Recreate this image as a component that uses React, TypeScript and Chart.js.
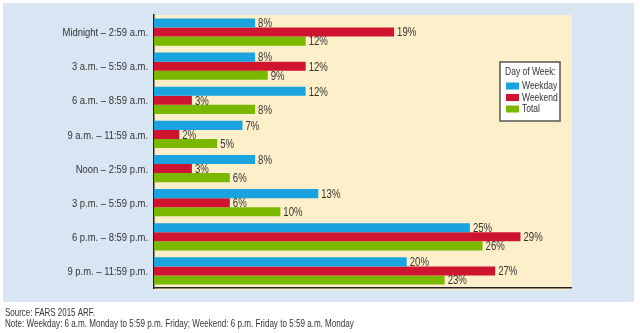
import React, { useEffect, useRef } from "react";
import { Chart, registerables } from "chart.js";

Chart.register(...registerables);

const categories = [
  "Midnight – 2:59 a.m.",
  "3 a.m. – 5:59 a.m.",
  "6 a.m. – 8:59 a.m.",
  "9 a.m. – 11:59 a.m.",
  "Noon – 2:59 p.m.",
  "3 p.m. – 5:59 p.m.",
  "6 p.m. – 8:59 p.m.",
  "9 p.m. – 11:59 p.m.",
];
const weekday = [8, 8, 12, 7, 8, 13, 25, 20];
const weekend = [19, 12, 3, 2, 3, 6, 29, 27];
const total = [12, 9, 8, 5, 6, 10, 26, 23];
const seriesNames = ["Weekday", "Weekend", "Total"];
const legendTitle = "Day of Week:";
const sourceText = "Source: FARS 2015 ARF.";
const noteText =
  "Note: Weekday: 6 a.m. Monday to 5:59 p.m. Friday; Weekend: 6 p.m. Friday to 5:59 a.m. Monday";

const FONT = "'Liberation Sans', Arial, sans-serif";
const COND = 0.82;
const COLORS = ["#1aa3de", "#cf1430", "#7ab800"];
const TEXT = "#333333";

function drawText(ctx: CanvasRenderingContext2D, text: string, x: number, y: number, align: CanvasTextAlign, size: number, sx = COND) {
  ctx.save();
  ctx.font = `${size}px ${FONT}`;
  ctx.fillStyle = TEXT;
  ctx.textBaseline = "middle";
  ctx.textAlign = align;
  ctx.translate(x, y);
  ctx.scale(sx, 1);
  ctx.fillText(text, 0, 0);
  ctx.restore();
}

const bgPlugin = {
  id: "creamBg",
  beforeDraw(chart: any) {
    const { ctx, chartArea } = chart;
    ctx.save();
    ctx.fillStyle = "#ffffff";
    ctx.fillRect(0, 0, chart.width, chart.height);
    ctx.fillStyle = "#d8e6f3";
    ctx.fillRect(3, 3, 631, 299);
    ctx.fillStyle = "#fdefc9";
    ctx.fillRect(chartArea.left, chartArea.top, chartArea.right - chartArea.left + 1, chartArea.bottom - chartArea.top + 2);
    ctx.restore();
  },
};

const labelPlugin = {
  id: "labels",
  afterDatasetsDraw(chart: any) {
    const { ctx, chartArea } = chart;
    const yScale = chart.scales.y;
    categories.forEach((c, i) => {
      drawText(ctx, c, chartArea.left - 6, yScale.getPixelForValue(i) + 1, "right", 11.5);
    });
    chart.data.datasets.forEach((ds: any, i: number) => {
      const meta = chart.getDatasetMeta(i);
      meta.data.forEach((bar: any, j: number) => {
        drawText(ctx, `${ds.data[j]}%`, bar.x + 3, bar.y + 1, "left", 12, 0.8);
      });
    });
    drawText(ctx, sourceText, 5, 313, "left", 10.5, 0.76);
    drawText(ctx, noteText, 5, 324, "left", 10.5, 0.77);
  },
};

const legendPlugin = {
  id: "boxLegend",
  afterDraw(chart: any) {
    const { ctx } = chart;
    const x = 500, y = 62, w = 60, h = 59;
    ctx.save();
    ctx.fillStyle = "#ffffff";
    ctx.fillRect(x, y, w, h);
    ctx.strokeStyle = "#555555";
    ctx.lineWidth = 1.5;
    ctx.strokeRect(x, y, w, h);
    ctx.restore();
    drawText(ctx, legendTitle, x + 5, y + 10, "left", 11.5, 0.74);
    chart.data.datasets.forEach((ds: any, i: number) => {
      const cy = y + 24 + i * 11.5;
      ctx.save();
      ctx.fillStyle = ds.backgroundColor;
      ctx.fillRect(x + 6, cy - 3.5, 13, 7);
      ctx.restore();
      drawText(ctx, ds.label, x + 22, cy, "left", 11.5, 0.74);
    });
  },
};

function BarChart() {
  const ref = useRef<HTMLCanvasElement>(null);
  useEffect(() => {
    if (!ref.current) return;
    const chart = new Chart(ref.current, {
      type: "bar",
      data: {
        labels: categories,
        datasets: [weekday, weekend, total].map((d, i) => ({
          label: seriesNames[i],
          data: d,
          backgroundColor: COLORS[i],
          borderWidth: 0,
          categoryPercentage: 0.8,
          barPercentage: 1.0,
        })),
      },
      options: {
        indexAxis: "y",
        animation: false,
        responsive: false,
        maintainAspectRatio: false,
        layout: { padding: { left: 0, top: 15, right: 69, bottom: 44 } },
        plugins: {
          legend: { display: false },
          tooltip: { enabled: false },
        },
        scales: {
          x: {
            min: 0,
            max: 33,
            ticks: { display: false },
            grid: { display: false, drawTicks: false },
            border: { display: true, color: "#222222", width: 1.5 },
            afterFit: (s: any) => {
              s.height = 1;
            },
          },
          y: {
            ticks: { display: false },
            grid: { display: false, drawTicks: false },
            border: { display: true, color: "#222222", width: 1.5 },
            afterFit: (s: any) => {
              s.width = 154;
            },
          },
        },
      },
      plugins: [bgPlugin, labelPlugin, legendPlugin],
    } as any);
    return () => chart.destroy();
  }, []);
  return <canvas ref={ref} width={640} height={333} style={{ position: "absolute", left: 0, top: 0, width: 640, height: 333 }} />;
}

export default function App() {
  return (
    <div style={{ position: "fixed", left: 0, top: 0, width: 640, height: 333, background: "#ffffff", overflow: "hidden" }}>
      <BarChart />
    </div>
  );
}
